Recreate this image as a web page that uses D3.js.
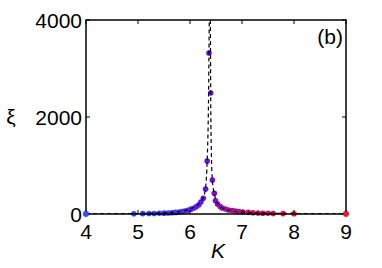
<!DOCTYPE html>
<html>
<head>
<meta charset="utf-8">
<script src="https://cdn.jsdelivr.net/npm/d3@7"></script>
<style>
    body { margin: 0; background: #fff; }
    text { font-family: "Liberation Sans", Arial, sans-serif; }
</style>
</head>
<body>
<div id="chart"></div>
<script>
    var width = 382;
    var height = 268;

    // data points (K, xi)
    var pointK = [4.0, 4.92, 5.09, 5.21, 5.31, 5.41, 5.50, 5.58, 5.65, 5.72, 5.79, 5.85, 5.90, 5.96,
        6.02, 6.08, 6.125, 6.17, 6.21, 6.255, 6.30, 6.33, 6.365,
        6.398, 6.43, 6.467, 6.49, 6.53, 6.58, 6.62, 6.68, 6.74, 6.81, 6.87, 6.94, 7.02, 7.12,
        7.21, 7.31, 7.40, 7.50, 7.60, 7.79, 8.0, 9.0];
    var pointXi = [2, 5, 7, 9, 11, 14, 18, 22, 27, 33, 40, 50, 62, 78,
        100, 125, 155, 190, 245, 324, 515, 1093, 3320,
        2495, 700, 427, 274, 205, 155, 124, 103, 83, 72, 62, 52, 42, 34,
        27, 22, 17, 14, 11, 8, 6, 3];

    // dashed fit curve, two branches
    var fitLeftK = [4.0, 4.5, 5.0, 5.3, 5.5, 5.7, 5.8, 5.9, 6.0, 6.1, 6.2, 6.25, 6.3, 6.33, 6.35, 6.36, 6.365, 6.37];
    var fitLeftXi = [2, 5, 10, 17, 25, 38, 50, 70, 100, 150, 240, 330, 540, 1100, 1900, 2700, 3300, 4000];
    var fitRightK = [6.392, 6.398, 6.41, 6.43, 6.467, 6.5, 6.55, 6.6, 6.7, 6.8, 7.0, 7.2, 7.5, 8.0, 8.5, 9.0];
    var fitRightXi = [4000, 2500, 1300, 700, 420, 280, 190, 140, 90, 65, 40, 28, 18, 10, 6, 4];

    var xTicks = [4, 5, 6, 7, 8, 9];
    var yTicks = [0, 2000, 4000];

    var svg = d3.select("#chart").append("svg")
        .attr("width", width)
        .attr("height", height);

    var x = d3.scaleLinear().domain([4, 9]).range([86, 346]);
    var y = d3.scaleLinear().domain([0, 4000]).range([214, 20]);

    var dots = d3.zip(pointK, pointXi);

    // colour runs blue -> violet -> red along the point index
    var n = dots.length - 1;
    var color = d3.scaleLinear()
        .domain([0, 22, n])
        .range(["#3050ff", "#6a08ea", "#ee1430"])
        .interpolate(d3.interpolateRgb);

    var plot = svg.append("g");

    plot.append("clipPath").attr("id", "clip")
        .append("rect")
        .attr("x", x(4)).attr("y", y(4000))
        .attr("width", x(9) - x(4)).attr("height", y(0) - y(4000));

    // x axis line first, so the dots sit on top of it
    svg.append("line")
        .attr("x1", x(4)).attr("x2", x(9))
        .attr("y1", y(0)).attr("y2", y(0))
        .attr("stroke", "#000").attr("stroke-width", 1.5);

    var line = d3.line()
        .x(function (d) { return x(d[0]); })
        .y(function (d) { return y(d[1]); })
        .curve(d3.curveMonotoneX);

    plot.selectAll(".dot")
        .data(dots)
        .enter()
        .append("circle")
        .attr("class", "dot")
        .attr("cx", function (d) { return x(d[0]); })
        .attr("cy", function (d) { return y(d[1]); })
        .attr("r", 2.8)
        .attr("fill", function (d, i) { return color(i); });

    [d3.zip(fitLeftK, fitLeftXi), d3.zip(fitRightK, fitRightXi)].forEach(function (branch) {
        plot.append("path")
            .datum(branch)
            .attr("d", line)
            .attr("fill", "none")
            .attr("stroke", "#000")
            .attr("stroke-width", 1.2)
            .attr("stroke-dasharray", "4,3")
            .attr("clip-path", "url(#clip)");
    });

    // box
    svg.append("path")
        .attr("d", "M" + x(4) + "," + y(0) + "V" + y(4000) + "H" + x(9) + "V" + y(0))
        .attr("fill", "none")
        .attr("stroke", "#000")
        .attr("stroke-width", 1.5);

    // inward ticks
    var tl = 4;
    xTicks.forEach(function (t) {
        svg.append("line").attr("x1", x(t)).attr("x2", x(t)).attr("y1", y(0)).attr("y2", y(0) - tl)
            .attr("stroke", "#000").attr("stroke-width", 1);
        svg.append("line").attr("x1", x(t)).attr("x2", x(t)).attr("y1", y(4000)).attr("y2", y(4000) + tl)
            .attr("stroke", "#000").attr("stroke-width", 1);
    });
    yTicks.forEach(function (t) {
        svg.append("line").attr("x1", x(4)).attr("x2", x(4) + tl).attr("y1", y(t)).attr("y2", y(t))
            .attr("stroke", "#000").attr("stroke-width", 1);
        svg.append("line").attr("x1", x(9)).attr("x2", x(9) - tl).attr("y1", y(t)).attr("y2", y(t))
            .attr("stroke", "#000").attr("stroke-width", 1);
    });

    // redraw the end dots over the box
    svg.selectAll(".edge")
        .data([0, n])
        .enter()
        .append("circle")
        .attr("cx", function (i) { return x(dots[i][0]); })
        .attr("cy", function (i) { return y(dots[i][1]); })
        .attr("r", 2.8)
        .attr("fill", function (i) { return color(i); });

    // tick labels
    svg.selectAll(".xlab")
        .data(xTicks)
        .enter()
        .append("text")
        .attr("class", "xlab")
        .attr("x", function (d) { return x(d); })
        .attr("y", 239)
        .attr("text-anchor", "middle")
        .attr("font-size", 21)
        .text(function (d) { return d; });

    svg.selectAll(".ylab")
        .data(yTicks)
        .enter()
        .append("text")
        .attr("class", "ylab")
        .attr("x", 82)
        .attr("y", function (d) { return y(d) + 8; })
        .attr("text-anchor", "end")
        .attr("font-size", 21)
        .text(function (d) { return d; });

    // axis titles
    svg.append("text")
        .attr("x", 11).attr("y", 124)
        .attr("text-anchor", "middle")
        .attr("font-size", 21)
        .text("ξ");

    svg.append("text")
        .attr("x", 218).attr("y", 258)
        .attr("text-anchor", "middle")
        .attr("font-size", 21)
        .attr("font-style", "italic")
        .text("K");

    svg.append("text")
        .attr("x", 343).attr("y", 44)
        .attr("text-anchor", "end")
        .attr("font-size", 21)
        .text("(b)");
</script>
</body>
</html>
